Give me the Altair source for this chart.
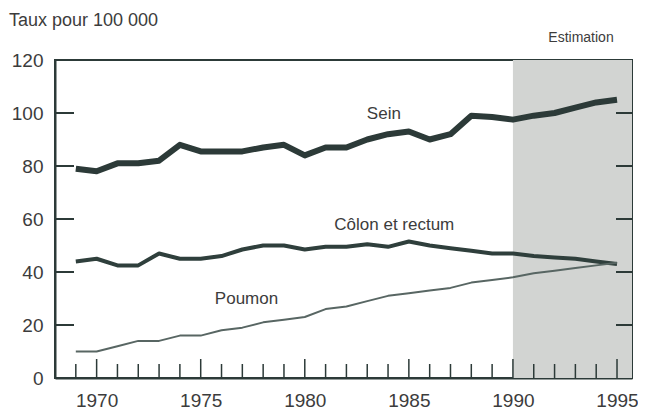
import altair as alt
import pandas as pd

years = list(range(1969, 1996))
sein = [79, 78, 81, 81, 82, 88, 85.5, 85.5, 85.5, 87, 88, 84, 87, 87, 90, 92, 93, 90, 92, 99, 98.5, 97.5, 99, 100, 102, 104, 105]
colon = [44, 45, 42.5, 42.5, 47, 45, 45, 46, 48.5, 50, 50, 48.5, 49.5, 49.5, 50.5, 49.5, 51.5, 50, 49, 48, 47, 47, 46, 45.5, 45, 44, 43]
poumon = [10, 10, 12, 14, 14, 16, 16, 18, 19, 21, 22, 23, 26, 27, 29, 31, 32, 33, 34, 36, 37, 38, 39.5, 40.5, 41.5, 42.5, 43.5]

series_names = ["Sein", "Côlon et rectum", "Poumon"]
label_x = [1983.8, 1984.3, 1977.2]
label_y = [99.6, 57.9, 30.0]

x_labels = [1970, 1975, 1980, 1985, 1990, 1995]
y_labels = [0, 20, 40, 60, 80, 100, 120]
y_inner_ticks = [20, 40, 60, 80, 100]
estimation_start = 1990
x_min, x_max = 1968, 1995.72

W, H = 577, 318
FONT = "Liberation Sans"
INK = "#2c3a38"
TXT = "#3c3c3c"

rows = []
for name, vals in zip(series_names, [sein, colon, poumon]):
    for yr, v in zip(years, vals):
        rows.append({"year": yr, "value": v, "serie": name})
df = pd.DataFrame(rows)

xs = alt.Scale(domain=[x_min, x_max], nice=False, zero=False)
ys = alt.Scale(domain=[0, 120], nice=False)

xaxis = alt.Axis(values=x_labels, format="d", ticks=False, grid=False, labelFontSize=19,
                 labelColor=TXT, labelFont=FONT, labelPadding=13, domainColor=INK,
                 domainWidth=2, title=None, labelFlush=False)
yaxis = alt.Axis(values=y_labels, ticks=False, grid=False, labelFontSize=19, labelColor=TXT,
                 labelFont=FONT, labelPadding=12, domainColor=INK, domainWidth=2, title=None)

shade = alt.Chart(pd.DataFrame({"x": [estimation_start], "x2": [x_max], "y": [0], "y2": [120]})).mark_rect(
    color="#d2d4d2").encode(
    x=alt.X("x:Q", scale=xs, axis=xaxis), x2="x2:Q",
    y=alt.Y("y:Q", scale=ys, axis=yaxis), y2="y2:Q")

widths = {"Sein": 6, "Côlon et rectum": 4, "Poumon": 2}
colors = {"Sein": INK, "Côlon et rectum": "#2f3f3c", "Poumon": "#586663"}
lines = []
for name in series_names:
    lines.append(
        alt.Chart(df[df.serie == name]).mark_line(
            color=colors[name], strokeWidth=widths[name], strokeJoin="round", strokeCap="butt",
            interpolate="linear").encode(
            x=alt.X("year:Q", scale=xs), y=alt.Y("value:Q", scale=ys))
    )

tick_df = pd.DataFrame({"year": years})
minor_ticks = alt.Chart(tick_df).transform_filter("datum.year % 5 != 0").mark_rule(
    color=INK, strokeWidth=1.5).encode(
    x=alt.X("year:Q", scale=xs), y=alt.value(H), y2=alt.value(H - 14))
major_ticks = alt.Chart(tick_df).transform_filter("datum.year % 5 == 0").mark_rule(
    color=INK, strokeWidth=1.5).encode(
    x=alt.X("year:Q", scale=xs), y=alt.value(H), y2=alt.value(H - 19))

ytick_df = pd.DataFrame({"v": y_inner_ticks})
left_ticks = alt.Chart(ytick_df).mark_rule(color=INK, strokeWidth=2).encode(
    y=alt.Y("v:Q", scale=ys), x=alt.value(0), x2=alt.value(19))
right_ticks = alt.Chart(ytick_df).mark_rule(color=INK, strokeWidth=2).encode(
    y=alt.Y("v:Q", scale=ys), x=alt.value(W), x2=alt.value(W - 16))

lab_df = pd.DataFrame({"name": series_names, "x": label_x, "y": label_y})
labels = alt.Chart(lab_df).mark_text(font=FONT, fontSize=17, color=TXT, align="center",
                                     baseline="middle").encode(
    x=alt.X("x:Q", scale=xs), y=alt.Y("y:Q", scale=ys), text="name:N")

title = alt.Chart(pd.DataFrame({"t": ["Taux pour 100 000"]})).mark_text(
    font=FONT, fontSize=18, color=TXT, align="left", baseline="middle").encode(
    x=alt.value(-46), y=alt.value(-39), text="t:N")
estim = alt.Chart(pd.DataFrame({"t": ["Estimation"]})).mark_text(
    font=FONT, fontSize=14, color=TXT, align="center", baseline="middle").encode(
    x=alt.value(526), y=alt.value(-22), text="t:N")

chart = alt.layer(shade, *lines, minor_ticks, major_ticks, left_ticks, right_ticks, labels, title, estim).properties(
    width=W, height=H,
    autosize=alt.AutoSizeParams(type="none"),
    padding={"left": 47, "top": 52, "right": 6, "bottom": 33},
    background="white",
).configure_view(stroke=INK, strokeWidth=2)

chart.save("out.html", embed_options={"renderer": "svg", "actions": False})
